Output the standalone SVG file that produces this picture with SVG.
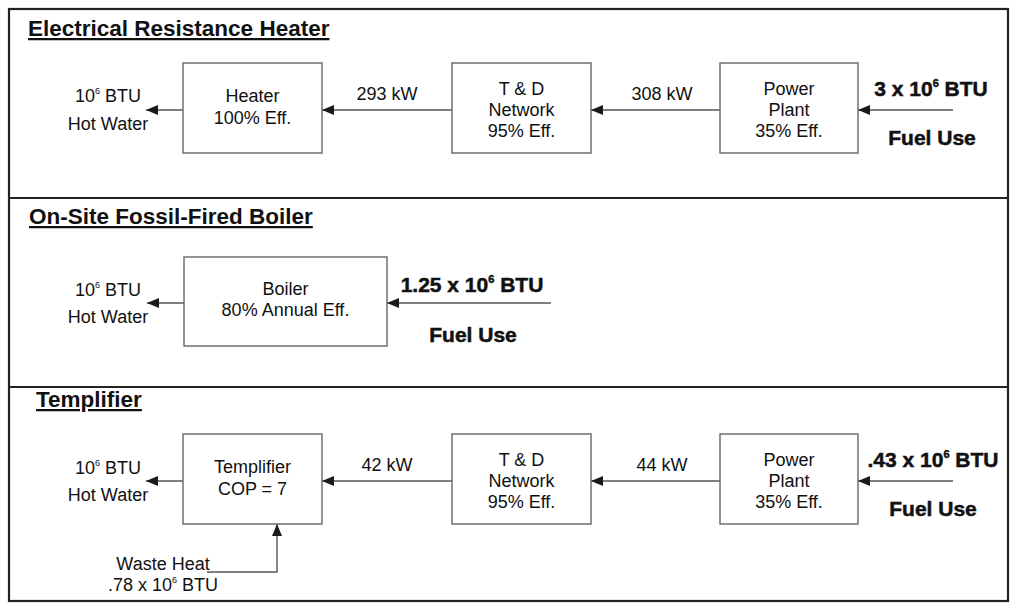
<svg xmlns="http://www.w3.org/2000/svg" width="1013" height="606" viewBox="0 0 1013 606">
<defs>
<marker id="ah" markerUnits="userSpaceOnUse" markerWidth="13" markerHeight="11" refX="12" refY="5" orient="auto">
<path d="M0,0 L12,5 L0,10 z" fill="#1a1a1a"/>
</marker>
<style>
text{font-family:"Liberation Sans",Arial,sans-serif;fill:#111}
.t{font-size:18px;text-anchor:middle}
.b{font-size:21px;font-weight:bold;text-anchor:middle;stroke:#111;stroke-width:0.5}
.h{font-size:22.5px;font-weight:bold;text-decoration:underline}
.box{fill:#fff;stroke:#666;stroke-width:1.4}
.frame{fill:none;stroke:#222;stroke-width:2.2}
.c{fill:none;stroke:#555;stroke-width:1.4;marker-end:url(#ah)}
</style>
</defs>
<rect width="1013" height="606" fill="#fff"/>
<g id="frame">
<rect class="frame" x="9" y="9" width="999" height="592"/>
<line class="frame" x1="9" y1="198" x2="1008" y2="198"/>
<line class="frame" x1="9" y1="387" x2="1008" y2="387"/>
</g>
<g id="titles">
<text class="h" x="28" y="36">Electrical Resistance Heater</text>
<text class="h" x="29" y="224">On-Site Fossil-Fired Boiler</text>
<text class="h" x="36" y="407">Templifier</text>
</g>
<g id="connectors">
<line class="c" x1="183" y1="110" x2="146" y2="110"/>
<line class="c" x1="452" y1="110" x2="322" y2="110"/>
<line class="c" x1="720" y1="110" x2="591" y2="110"/>
<line class="c" x1="953" y1="110" x2="858" y2="110"/>
<line class="c" x1="184" y1="303" x2="147" y2="303"/>
<line class="c" x1="551" y1="303" x2="387" y2="303"/>
<line class="c" x1="183" y1="481" x2="146" y2="481"/>
<line class="c" x1="452" y1="481" x2="322" y2="481"/>
<line class="c" x1="720" y1="481" x2="591" y2="481"/>
<line class="c" x1="953" y1="481" x2="858" y2="481"/>
<polyline class="c" points="207,572 277,572 277,524"/>
</g>
<g id="heater">
<rect class="box" x="183" y="63" width="139" height="90"/>
<text class="t" x="252.5" y="102">Heater</text>
<text class="t" x="252.5" y="124">100% Eff.</text>
</g>
<g id="td1">
<rect class="box" x="452" y="63" width="139" height="90"/>
<text class="t" x="521.5" y="95">T &amp; D</text>
<text class="t" x="521.5" y="116">Network</text>
<text class="t" x="521.5" y="137">95% Eff.</text>
</g>
<g id="plant1">
<rect class="box" x="720" y="63" width="138" height="90"/>
<text class="t" x="789" y="95">Power</text>
<text class="t" x="789" y="116">Plant</text>
<text class="t" x="789" y="137">35% Eff.</text>
</g>
<g id="labels1">
<text class="t" x="108" y="102">10<tspan font-size="9" dy="-8">6</tspan><tspan dy="8"> BTU</tspan></text>
<text class="t" x="108" y="130">Hot Water</text>
<text class="t" x="387" y="100">293 kW</text>
<text class="t" x="662" y="100">308 kW</text>
<text class="b" x="931" y="96">3 x 10<tspan font-size="11" dy="-9">6</tspan><tspan dy="9"> BTU</tspan></text>
<text class="b" x="932" y="145">Fuel Use</text>
</g>
<g id="boiler">
<rect class="box" x="184" y="257" width="203" height="89"/>
<text class="t" x="285.5" y="295">Boiler</text>
<text class="t" x="285.5" y="316">80% Annual Eff.</text>
</g>
<g id="labels2">
<text class="t" x="108" y="296">10<tspan font-size="9" dy="-8">6</tspan><tspan dy="8"> BTU</tspan></text>
<text class="t" x="108" y="323">Hot Water</text>
<text class="b" x="472" y="292">1.25 x 10<tspan font-size="11" dy="-9">6</tspan><tspan dy="9"> BTU</tspan></text>
<text class="b" x="473" y="342">Fuel Use</text>
</g>
<g id="templifier">
<rect class="box" x="183" y="434" width="139" height="90"/>
<text class="t" x="252.5" y="473">Templifier</text>
<text class="t" x="252.5" y="495">COP = 7</text>
</g>
<g id="td3">
<rect class="box" x="452" y="434" width="139" height="90"/>
<text class="t" x="521.5" y="466">T &amp; D</text>
<text class="t" x="521.5" y="487">Network</text>
<text class="t" x="521.5" y="508">95% Eff.</text>
</g>
<g id="plant3">
<rect class="box" x="720" y="434" width="138" height="90"/>
<text class="t" x="789" y="466">Power</text>
<text class="t" x="789" y="487">Plant</text>
<text class="t" x="789" y="508">35% Eff.</text>
</g>
<g id="labels3">
<text class="t" x="108" y="474">10<tspan font-size="9" dy="-8">6</tspan><tspan dy="8"> BTU</tspan></text>
<text class="t" x="108" y="501">Hot Water</text>
<text class="t" x="387" y="471">42 kW</text>
<text class="t" x="662" y="471">44 kW</text>
<text class="b" x="933" y="467">.43 x 10<tspan font-size="11" dy="-9">6</tspan><tspan dy="9"> BTU</tspan></text>
<text class="b" x="933" y="516">Fuel Use</text>
<text class="t" x="163" y="570">Waste Heat</text>
<text class="t" x="163" y="591">.78 x 10<tspan font-size="9" dy="-8">6</tspan><tspan dy="8"> BTU</tspan></text>
</g>
</svg>
